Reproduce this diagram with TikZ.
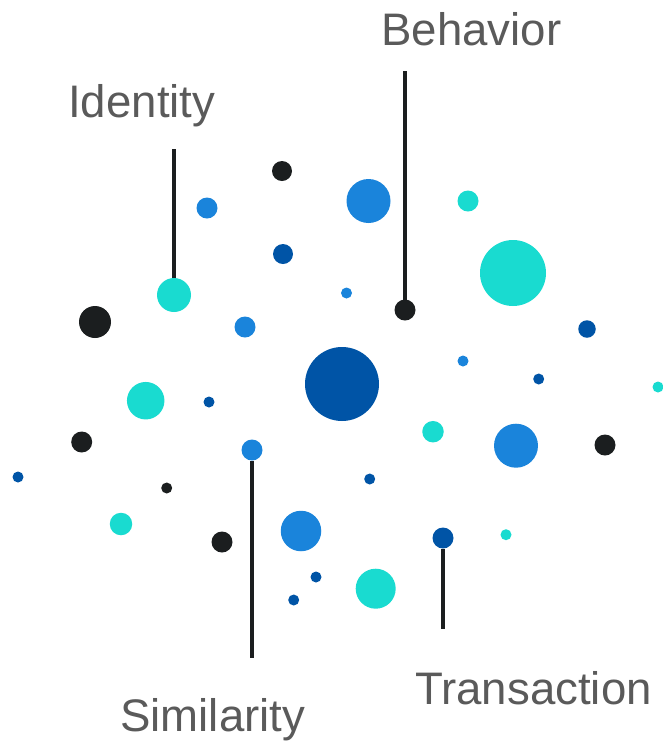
\documentclass[tikz,border=0pt]{standalone}
\usepackage{fontspec}
\setmainfont{Liberation Sans}
\definecolor{cteal}{RGB}{25,219,208}
\definecolor{clight}{RGB}{26,132,219}
\definecolor{cdark}{RGB}{0,84,166}
\definecolor{cblack}{RGB}{27,30,31}
\definecolor{ctext}{RGB}{90,90,90}
\tikzset{
  blob/.style={circle, inner sep=0pt, outer sep=0pt, draw=none, minimum size=#1*0.75pt},
  lbl/.style={anchor=base west, inner sep=0pt, text=ctext, font=\fontsize{34.2}{40}\selectfont},
  stem/.style={draw=cblack, line width=3pt}
}
\begin{document}
\begin{tikzpicture}[x=0.75pt, y=-0.75pt]
\useasboundingbox (0,0) rectangle (663,744);
% labels
\node[lbl] (tid) at (68,117) {Identity};
\node[lbl] (tbe) at (381,45) {Behavior};
\node[lbl] (tsi) at (120,731) {Similarity};
\node[lbl] (ttr) at (415,704) {Transaction};
% free ends of stems
\coordinate (eid) at (174,149);
\coordinate (ebe) at (405,71);
\coordinate (esi) at (252,658);
\coordinate (etr) at (443,629);
% circles
\node[blob=20, fill=cblack] (c1) at (282,171) {};
\node[blob=21, fill=clight] (c2) at (207,208) {};
\node[blob=20, fill=cdark] (c3) at (283,254) {};
\node[blob=34, fill=cteal] (cid) at (174,295) {};
\node[blob=32, fill=cblack] (c5) at (95,322) {};
\node[blob=21, fill=clight] (c6) at (245,327) {};
\node[blob=44, fill=clight] (c7) at (368.5,201) {};
\node[blob=21, fill=cblack] (cbe) at (405,310) {};
\node[blob=21, fill=cteal] (c9) at (468,201) {};
\node[blob=66, fill=cteal] (c10) at (513,273) {};
\node[blob=11, fill=clight] (c11) at (346.5,293) {};
\node[blob=17.5, fill=cdark] (c12) at (587,329) {};
\node[blob=11, fill=clight] (c13) at (463,361) {};
\node[blob=74, fill=cdark] (c14) at (342,384) {};
\node[blob=11, fill=cdark] (c15) at (538.7,379) {};
\node[blob=11, fill=cteal] (c16) at (658,387) {};
\node[blob=37.5, fill=cteal] (c17) at (145.7,400.7) {};
\node[blob=11, fill=cdark] (c18) at (209,402) {};
\node[blob=21, fill=cblack] (c19) at (81.7,442) {};
\node[blob=21, fill=clight] (csi) at (252,450) {};
\node[blob=11, fill=cdark] (c21) at (18,477) {};
\node[blob=11, fill=cblack] (c22) at (166.7,488) {};
\node[blob=22.5, fill=cteal] (c23) at (121,524) {};
\node[blob=21, fill=cblack] (c24) at (222,542) {};
\node[blob=40.5, fill=clight] (c25) at (301,531) {};
\node[blob=11, fill=cdark] (c26) at (316,577) {};
\node[blob=11, fill=cdark] (c27) at (293.7,600) {};
\node[blob=21.5, fill=cteal] (c28) at (433,431.7) {};
\node[blob=44, fill=clight] (c29) at (516,445.7) {};
\node[blob=21, fill=cblack] (c30) at (605,445) {};
\node[blob=11, fill=cdark] (c31) at (369.7,479) {};
\node[blob=21, fill=cdark] (ctr) at (443,538) {};
\node[blob=11, fill=cteal] (c33) at (506,534.7) {};
\node[blob=40, fill=cteal] (c34) at (375.7,588.7) {};
% stems
\draw[stem] (eid) -- (cid);
\draw[stem] (ebe) -- (cbe);
\draw[stem] (csi) -- (esi);
\draw[stem] (ctr) -- (etr);
\end{tikzpicture}
\end{document}
